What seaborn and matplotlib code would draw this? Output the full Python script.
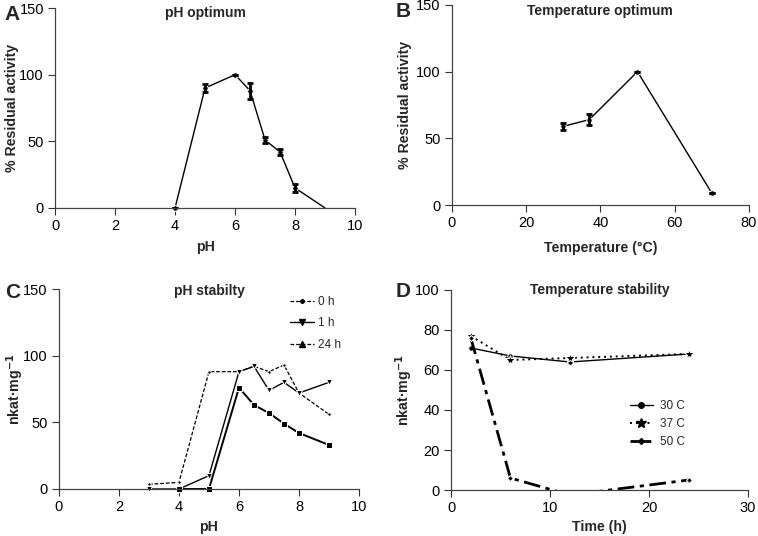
import numpy as np
import pandas as pd
import matplotlib
matplotlib.use("Agg")
import matplotlib.pyplot as plt
from matplotlib.lines import Line2D
import seaborn as sns

# A - pH optimum
ph_opt = [4, 5, 6, 6.5, 7, 7.5, 8, 9]
act_ph = [0, 90, 100, 88, 51, 42, 15, 0]
err_ph = [0, 3, 0, 6, 2, 2, 3, 0]

# B - temperature optimum
temp_opt = [30, 37, 50, 70]
act_temp = [59, 64, 100, 9]
err_temp = [2.5, 4, 0, 0]

# C - pH stability
ph_stab = [3, 4, 5, 6, 6.5, 7, 7.5, 8, 9]
stab_0h = [3.5, 5, 88, 88, 92, 88, 93, 72, 56]
stab_1h = [0, 0, 10, 88, 92, 74, 80, 72, 80]
ph_24h = [4, 5, 6, 6.5, 7, 7.5, 8, 9]
stab_24h = [0, 0, 76, 63, 57, 49, 42, 33]

# D - temperature stability
time_h = [2, 6, 12, 24]
t30 = [71, 67, 64, 68]
t37 = [77, 65, 66, 68]
t50 = [76, 6, -2.5, 5]

sns.set_theme(style="ticks")
plt.rcParams["font.family"] = ["Liberation Sans", "DejaVu Sans"]
plt.rcParams["font.size"] = 10
plt.rcParams["xtick.direction"] = "out"
plt.rcParams["ytick.direction"] = "out"

fig = plt.figure(figsize=(7.58, 5.36), dpi=100)
axA = fig.add_axes([0.0726, 0.612, 0.3958, 0.373])
axB = fig.add_axes([0.596, 0.6175, 0.392, 0.3732])
axC = fig.add_axes([0.0778, 0.0877, 0.3958, 0.3731])
axD = fig.add_axes([0.595, 0.0858, 0.392, 0.3732])

for ax in (axA, axB, axC, axD):
    sns.despine(ax=ax)
    ax.tick_params(length=5, width=0.8, labelsize=10.5, colors="#333333",
                   labelcolor="black", pad=3)
    for s in ("left", "bottom"):
        ax.spines[s].set_color("#444444")
        ax.spines[s].set_linewidth(0.9)

lab_kw = dict(fontweight="bold", fontsize=10.2)

# A
sns.lineplot(x=ph_opt, y=act_ph, ax=axA, color="black", lw=1, marker="o",
             markersize=4, markevery=list(range(len(ph_opt) - 1)), clip_on=False)
axA.errorbar(ph_opt[:-1], act_ph[:-1], yerr=err_ph[:-1], fmt="none", ecolor="black",
             elinewidth=2, capsize=2.5, capthick=2)
axA.set_xlim(0, 10)
axA.set_ylim(0, 150)
axA.set_xticks([0, 2, 4, 6, 8, 10])
axA.set_yticks([0, 50, 100, 150])
axA.set_xlabel("pH", **lab_kw)
axA.set_ylabel("% Residual activity", **lab_kw)
axA.text(0.5, 0.975, "pH optimum", transform=axA.transAxes, ha="center", va="center",
         fontweight="bold")

# B
sns.lineplot(x=temp_opt, y=act_temp, ax=axB, color="black", lw=1, marker="o",
             markersize=4, clip_on=False)
axB.errorbar(temp_opt, act_temp, yerr=err_temp, fmt="none", ecolor="black",
             elinewidth=2, capsize=2.5, capthick=2)
axB.set_xlim(0, 80)
axB.set_ylim(0, 150)
axB.set_xticks([0, 20, 40, 60, 80])
axB.set_yticks([0, 50, 100, 150])
axB.set_xlabel("Temperature (°C)", **lab_kw)
axB.set_ylabel("% Residual activity", **lab_kw)
axB.text(0.5, 0.97, "Temperature optimum", transform=axB.transAxes, ha="center",
         va="center", fontweight="bold")

# C
sns.lineplot(x=ph_stab, y=stab_0h, ax=axC, color="black", lw=0.9, ls=(0, (3, 1.5)),
             marker="o", markersize=2.5, clip_on=False)
sns.lineplot(x=ph_stab, y=stab_1h, ax=axC, color="black", lw=1, marker="v",
             markersize=5, clip_on=False)
sns.lineplot(x=ph_24h, y=stab_24h, ax=axC, color="black", lw=1.4, marker="s",
             markersize=5, clip_on=False)
axC.set_xlim(0, 10)
axC.set_ylim(0, 150)
axC.set_xticks([0, 2, 4, 6, 8, 10])
axC.set_yticks([0, 50, 100, 150])
axC.set_xlabel("pH", **lab_kw)
axC.set_ylabel("nkat·mg$^{\\mathbf{-1}}$", **lab_kw)
axC.text(0.5, 0.99, "pH stabilty", transform=axC.transAxes, ha="center", va="center",
         fontweight="bold")
hC = [Line2D([], [], color="black", lw=0.9, ls=(0, (3, 1.5)), marker="o", markersize=2.5),
      Line2D([], [], color="black", lw=1, marker="v", markersize=5),
      Line2D([], [], color="black", lw=0.9, ls=(0, (3, 1.5)), marker="^", markersize=4)]
axC.legend(hC, ["0 h", "1 h", "24 h"], loc="upper left", bbox_to_anchor=(0.77, 0.965),
           frameon=False, fontsize=8.5, handlelength=2.0, handletextpad=0.4,
           labelspacing=0.8, borderpad=0, borderaxespad=0)

# D
sns.lineplot(x=time_h, y=t30, ax=axD, color="black", lw=1, marker="o", markersize=4,
             clip_on=False)
sns.lineplot(x=time_h, y=t37, ax=axD, color="black", lw=1.4, ls=(0, (1, 2)),
             marker="*", markersize=7, clip_on=False)
sns.lineplot(x=time_h, y=t50, ax=axD, color="black", lw=2, ls=(0, (6, 2, 1.5, 2)),
             marker="D", markersize=3, markevery=[0, 1, 3])
axD.set_xlim(0, 30)
axD.set_ylim(0, 100)
axD.set_xticks([0, 10, 20, 30])
axD.set_yticks([0, 20, 40, 60, 80, 100])
axD.set_xlabel("Time (h)", **lab_kw)
axD.set_ylabel("nkat·mg$^{\\mathbf{-1}}$", **lab_kw)
axD.text(0.5, 1.0, "Temperature stability", transform=axD.transAxes, ha="center",
         va="center", fontweight="bold")
hD = [Line2D([], [], color="black", lw=1, marker="o", markersize=4),
      Line2D([], [], color="black", lw=1.4, ls=(0, (1, 2)), marker="*", markersize=7),
      Line2D([], [], color="black", lw=2, ls=(0, (3, 1.5)), marker="D", markersize=3)]
axD.legend(hD, ["30 C", "37 C", "50 C"], loc="center left", bbox_to_anchor=(0.603, 0.33),
           frameon=False, fontsize=8.5, handlelength=1.9, handletextpad=0.6,
           labelspacing=0.5, borderpad=0, borderaxespad=0)

# label positions, panel letters
ylab_x = {axA: -0.143, axB: -0.157, axC: -0.147, axD: -0.157}
xlab_y = {axA: -0.195, axB: -0.215, axC: -0.19, axD: -0.185}
for ax in (axA, axB, axC, axD):
    ax.yaxis.set_label_coords(ylab_x[ax], 0.5)
    ax.yaxis.label.set_va("center")
    ax.xaxis.set_label_coords(0.5, xlab_y[ax])
    ax.xaxis.label.set_va("center")

letters = [(axA, "A", -0.17, 0.97), (axB, "B", -0.19, 0.965),
           (axC, "C", -0.18, 0.985), (axD, "D", -0.187, 0.99)]
for ax, lab, lx, ly in letters:
    ax.text(lx, ly, lab, transform=ax.transAxes, fontsize=15, fontweight="bold",
            ha="left", va="center")

fig.savefig("out.png", dpi=100)
